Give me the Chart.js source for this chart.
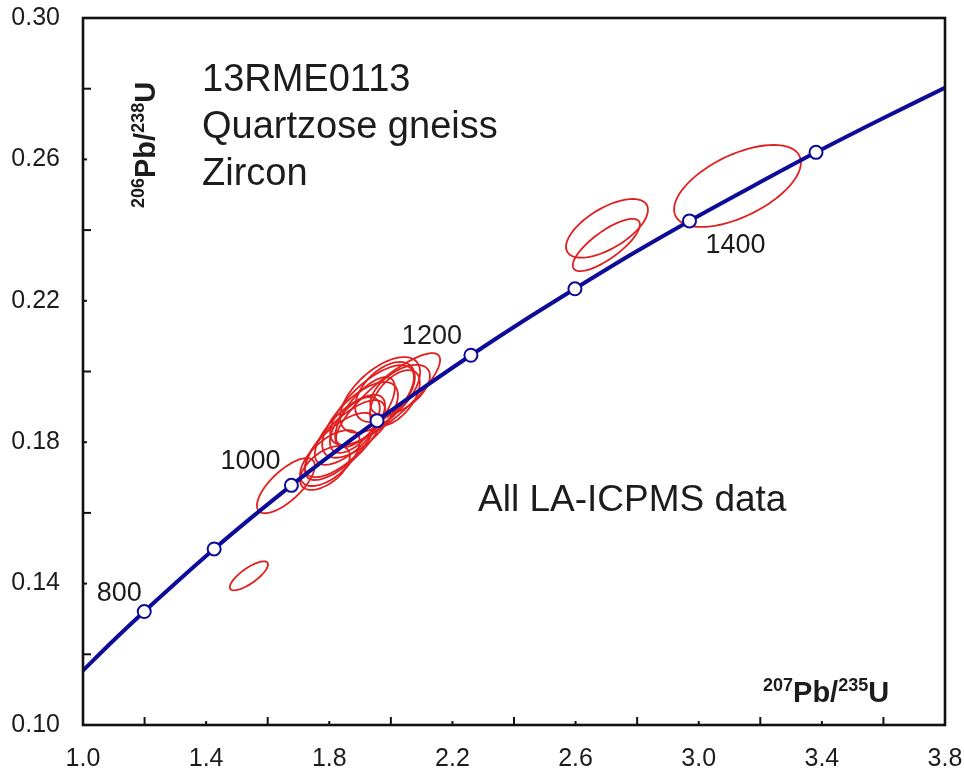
<!DOCTYPE html>
<html>
<head>
<meta charset="utf-8">
<script src="https://cdn.jsdelivr.net/npm/chart.js@4/dist/chart.umd.min.js"></script>
<style>
body{margin:0;background:#fff;}
canvas{display:block;}
</style>
</head>
<body>
<canvas id="concordia" width="964" height="772"></canvas>
<script>
// concordia curve (207Pb/235U, 206Pb/238U)
const curveX=[1.000,1.093,1.199,1.310,1.426,1.549,1.677,1.813,1.955,2.104,2.260,2.425,2.598,2.779,2.970,3.171,3.381,3.602,3.801];
const curveY=[0.1154,0.1234,0.1321,0.1409,0.1498,0.1588,0.1678,0.1769,0.1861,0.1953,0.2046,0.2140,0.2234,0.2330,0.2426,0.2522,0.2620,0.2718,0.2803];

// age markers on the curve (Ma)
const markerAge=[800,900,1000,1100,1200,1300,1400,1500];
const markerX=[1.199,1.426,1.677,1.955,2.260,2.598,2.970,3.381];
const markerY=[0.1321,0.1498,0.1678,0.1861,0.2046,0.2234,0.2426,0.2620];
const labelledAges=[800,1000,1200,1400];

// error ellipses: centre, half-extent in x and y, correlation
const ellX=[1.539,1.659,2.702,2.700,3.126,
1.991,1.965,1.939,1.981,2.013,1.900,1.867,1.835,1.802,1.786,1.851,1.916,2.030,1.883];
const ellY=[0.1422,0.1677,0.2405,0.2358,0.2525,
0.1922,0.1934,0.1905,0.1942,0.1925,0.1863,0.1835,0.1792,0.1755,0.1727,0.1806,0.1885,0.1948,0.1849];
const ellSx=[0.062,0.094,0.133,0.109,0.206,
0.169,0.130,0.136,0.097,0.081,0.123,0.114,0.114,0.097,0.081,0.130,0.097,0.097,0.081];
const ellSy=[0.0041,0.0078,0.0083,0.0074,0.0116,
0.0130,0.0107,0.0113,0.0085,0.0079,0.0107,0.0099,0.0091,0.0079,0.0062,0.0113,0.0099,0.0071,0.0079];
const ellRho=[0.78,0.72,0.63,0.78,0.57,
0.85,0.60,0.70,0.50,0.55,0.65,0.70,0.70,0.60,0.55,0.75,0.70,0.55,0.60];

const BLUE='#0c0c98';
const RED='#e02020';
const INK='#1c1c1c';
const FONT='"Liberation Sans", Arial, sans-serif';

const ellipsePlugin={
id:'ellipses',
beforeDatasetsDraw(chart){
const {ctx,chartArea:a,scales:{x,y}}=chart;
ctx.save();
ctx.beginPath();
ctx.rect(a.left,a.top,a.right-a.left,a.bottom-a.top);
ctx.clip();
ctx.strokeStyle=RED;
ctx.lineWidth=1.8;
for(let i=0;i<ellX.length;i++){
const r=ellRho[i];
const q=Math.sqrt(1-r*r);
ctx.beginPath();
for(let k=0;k<=72;k++){
const t=k/72*Math.PI*2;
const px=x.getPixelForValue(ellX[i]+ellSx[i]*Math.cos(t));
const py=y.getPixelForValue(ellY[i]+ellSy[i]*(r*Math.cos(t)+q*Math.sin(t)));
if(k===0)ctx.moveTo(px,py);else ctx.lineTo(px,py);
}
ctx.closePath();
ctx.stroke();
}
ctx.restore();
}
};

const framePlugin={
id:'frame',
afterDraw(chart){
const {ctx,chartArea:a,scales:{x,y}}=chart;
ctx.save();
ctx.strokeStyle='#111';
// inward tick marks, the labelled ones are shorter
ctx.lineWidth=2;
for(let v=1.0;v<=3.8001;v+=0.2){
const px=x.getPixelForValue(v);
const major=Math.round(v*10)%4===2;
ctx.beginPath();
ctx.moveTo(px,a.bottom);
ctx.lineTo(px,a.bottom-(major?4:8));
ctx.stroke();
}
for(let v=0.10;v<=0.3001;v+=0.02){
const py=y.getPixelForValue(v);
const major=Math.round(v*100)%4===2;
ctx.beginPath();
ctx.moveTo(a.left,py);
ctx.lineTo(a.left+(major?4:8),py);
ctx.stroke();
}
ctx.lineWidth=2.6;
ctx.strokeRect(a.left,a.top,a.right-a.left,a.bottom-a.top);
ctx.restore();
}
};

function drawIsotope(ctx,x0,y0,mass1,el1,mass2,el2,big,small){
let cx=x0;
const parts=[[mass1,small,-big*0.38],[el1,big,0],[mass2,small,-big*0.38],[el2,big,0]];
parts.forEach(p=>{
ctx.font='bold '+p[1]+'px '+FONT;
ctx.fillText(p[0],cx,y0+p[2]);
cx+=ctx.measureText(p[0]).width;
});
}

const textPlugin={
id:'texts',
afterDraw(chart){
const {ctx,scales:{x,y}}=chart;
ctx.save();
ctx.fillStyle=INK;
ctx.textBaseline='alphabetic';
ctx.textAlign='left';

ctx.font='38px '+FONT;
ctx.fillText('13RME0113',202,91);
ctx.fillText('Quartzose gneiss',202,138);
ctx.fillText('Zircon',202,185);

ctx.font='37px '+FONT;
ctx.fillText('All LA-ICPMS data',478,511);

// age labels next to their markers
const offs={800:[-25,-18],1000:[-41,-24],1200:[-39,-19],1400:[46,25]};
ctx.font='27px '+FONT;
ctx.textAlign='center';
ctx.textBaseline='middle';
labelledAges.forEach(age=>{
const i=markerAge.indexOf(age);
const px=x.getPixelForValue(markerX[i])+offs[age][0];
const py=y.getPixelForValue(markerY[i])+offs[age][1];
ctx.fillText(String(age),px,py);
});

// axis titles
ctx.textAlign='left';
ctx.textBaseline='alphabetic';
drawIsotope(ctx,763,702,'207','Pb/','235','U',29,18);

ctx.translate(155,208);
ctx.rotate(-Math.PI/2);
drawIsotope(ctx,0,0,'206','Pb/','238','U',29,18);
ctx.restore();
}
};

new Chart(document.getElementById('concordia'),{
type:'scatter',
data:{
datasets:[
{
label:'markers',
data:markerX.map((v,i)=>({x:v,y:markerY[i]})),
pointRadius:6.5,
pointBackgroundColor:'#fff',
pointBorderColor:BLUE,
pointBorderWidth:2,
order:0
},
{
label:'concordia',
data:curveX.map((v,i)=>({x:v,y:curveY[i]})),
showLine:true,
borderColor:BLUE,
borderWidth:4,
pointRadius:0,
tension:0.3,
order:1
}
]
},
options:{
responsive:false,
animation:false,
layout:{padding:{top:18,right:19,left:0,bottom:0}},
plugins:{legend:{display:false},tooltip:{enabled:false}},
scales:{
x:{
type:'linear',
min:1.0,
max:3.8,
afterFit(s){s.height=47;s.paddingLeft=0;s.paddingRight=0;},
grid:{display:false,drawTicks:false},
border:{display:false},
ticks:{
stepSize:0.4,
padding:19,
color:INK,
font:{family:FONT,size:25},
maxRotation:0,
autoSkip:false,
callback:v=>v.toFixed(1)
}
},
y:{
type:'linear',
min:0.10,
max:0.30,
afterFit(s){s.width=83;s.paddingTop=0;s.paddingBottom=0;},
grid:{display:false,drawTicks:false},
border:{display:false},
ticks:{
stepSize:0.04,
padding:23,
color:INK,
font:{family:FONT,size:25},
autoSkip:false,
callback:v=>v.toFixed(2)
}
}
}
},
plugins:[ellipsePlugin,framePlugin,textPlugin]
});
</script>
</body>
</html>
